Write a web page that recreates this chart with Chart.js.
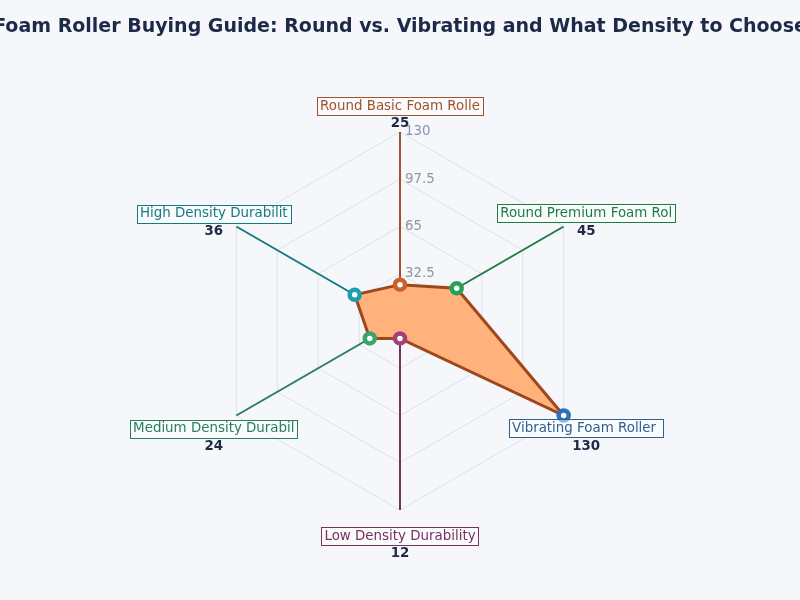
<!DOCTYPE html>
<html>
<head>
<meta charset="utf-8">
<script src="https://cdn.jsdelivr.net/npm/chart.js@4"></script>
<style>
html,body{margin:0;padding:0;background:#f5f7fb;}
#wrap{width:800px;height:600px;position:relative;}
</style>
</head>
<body>
<div id="wrap"><canvas id="c" width="800" height="600"></canvas></div>
<script>
const TITLE = 'Foam Roller Buying Guide: Round vs. Vibrating and What Density to Choose';
const categories = ['Round Basic Foam Rolle', 'Round Premium Foam Rol', 'Vibrating Foam Roller ', 'Low Density Durability', 'Medium Density Durabil', 'High Density Durabilit'];
const values = [25, 45, 130, 12, 24, 36];
const tickValues = [32.5, 65, 97.5, 130];
const tickLabels = ['32.5', '65', '97.5', '130'];
const axisColors = ['#a0522d', '#1e7b45', '#2f5f8f', '#7a2f5f', '#2a7d5a', '#137a80'];
const pointColors = ['#c8612a', '#27a05a', '#2e6fb5', '#a3407a', '#3aa56b', '#1a9fb0'];

const overlay = {
  id: 'overlay',
  afterDraw(chart) {
    const ctx = chart.ctx;
    const s = chart.scales.r;
    ctx.save();
    // title
    ctx.font = 'bold 19px "DejaVu Sans"';
    ctx.fillStyle = '#1c2a48';
    ctx.textAlign = 'center';
    ctx.textBaseline = 'middle';
    ctx.fillText(TITLE, 400, 27);
    // tick labels
    ctx.font = '13.4px "DejaVu Sans"';
    ctx.fillStyle = '#8d96a8';
    ctx.textAlign = 'left';
    tickValues.forEach((v, i) => {
      const p = s.getPointPositionForValue(0, v);
      ctx.fillText(tickLabels[i], p.x + 5, p.y);
    });
    // point labels
    const R = s.drawingArea;
    categories.forEach((lab, i) => {
      const p = s.getPointPosition(i, R + 26);
      ctx.font = '13.4px "DejaVu Sans"';
      const w = ctx.measureText(lab).width;
      const bw = w + 6, bh = 18;
      ctx.fillStyle = 'rgba(255,255,255,0.5)';
      ctx.fillRect(p.x - bw / 2, p.y - bh / 2, bw, bh);
      ctx.strokeStyle = axisColors[i];
      ctx.lineWidth = 1;
      ctx.strokeRect(Math.round(p.x - bw / 2) + 0.5, Math.round(p.y - bh / 2) + 0.5, Math.round(bw), bh);
      ctx.fillStyle = axisColors[i];
      ctx.textAlign = 'center';
      ctx.textBaseline = 'middle';
      ctx.fillText(lab, p.x, p.y + 0.5);
      ctx.font = 'bold 13.4px "DejaVu Sans"';
      ctx.fillStyle = '#1f2a44';
      ctx.fillText(String(values[i]), p.x, p.y + 18);
    });
    ctx.restore();
  }
};

new Chart(document.getElementById('c'), {
  type: 'radar',
  data: {
    labels: categories,
    datasets: [{
      data: values,
      backgroundColor: '#ffb27c',
      borderColor: '#a0461c',
      borderWidth: 3,
      pointRadius: 5,
      pointHoverRadius: 5,
      pointBorderWidth: 4.5,
      pointBackgroundColor: '#ffffff',
      pointBorderColor: pointColors,
      fill: true,
      tension: 0
    }]
  },
  options: {
    responsive: false,
    animation: false,
    devicePixelRatio: 1,
    layout: { padding: { top: 132, bottom: 90, left: 200, right: 200 } },
    plugins: { legend: { display: false }, tooltip: { enabled: false }, title: { display: false } },
    scales: {
      r: {
        min: 0,
        max: 130,
        ticks: { display: false, stepSize: 32.5 },
        grid: { color: '#dde1e9', lineWidth: 1, circular: false },
        angleLines: { display: true, color: (ctx) => axisColors[ctx.index], lineWidth: 2 },
        pointLabels: { display: false }
      }
    }
  },
  plugins: [overlay]
});
</script>
</body>
</html>
